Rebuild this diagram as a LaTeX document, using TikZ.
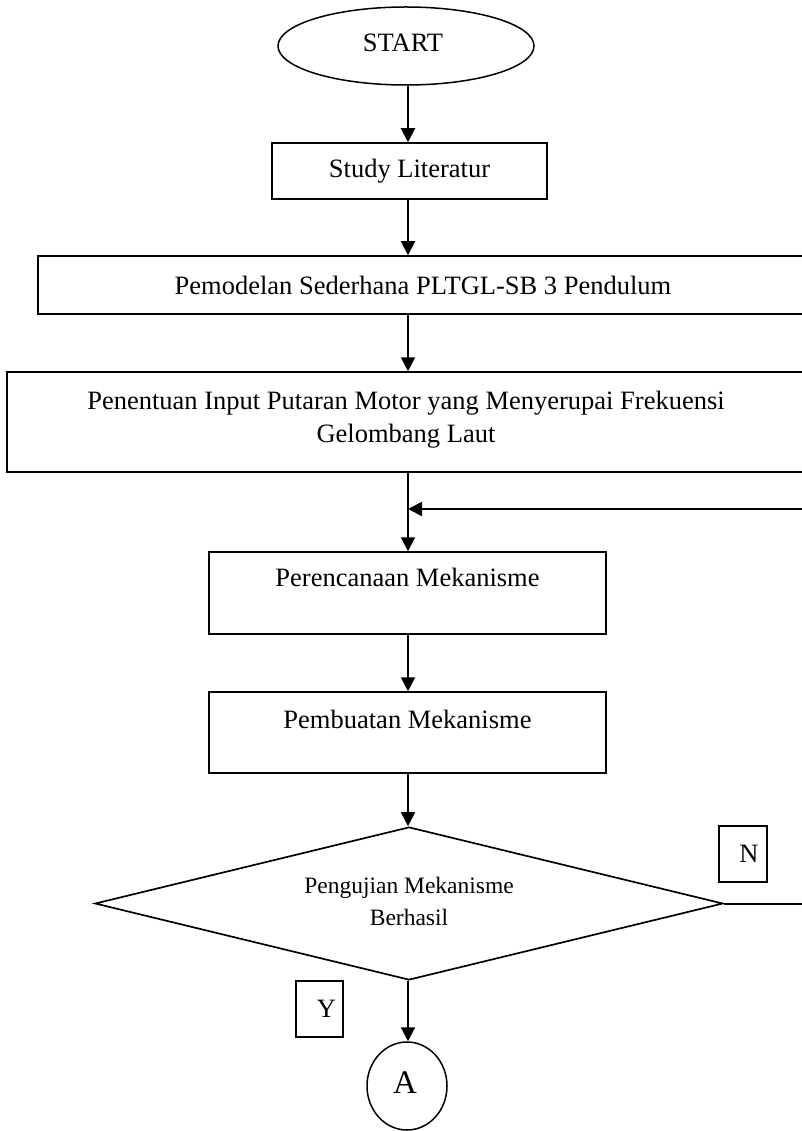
\documentclass[tikz,border=0pt]{standalone}
\usepackage{fontspec}
\setmainfont{Liberation Serif}
\usetikzlibrary{shapes.geometric,arrows.meta}
\begin{document}
\begin{tikzpicture}[x=1pt,y=-1pt,
  every node/.style={font=\fontsize{26.5}{33}\selectfont, inner sep=0pt},
  box/.style={draw, rectangle, line width=1.5pt},
  conn/.style={line width=2pt, -{Triangle[length=14pt,width=14pt]}},
  plain/.style={line width=2pt}]
\useasboundingbox (0,0) rectangle (802,1131);
\clip (0,0) rectangle (802,1131);

\node[draw, ellipse, line width=1.5pt, minimum width=256pt, minimum height=78pt,
      label={[xshift=-3pt,yshift=3pt]center:START}] (start) at (406,46) {};
\node[box, minimum width=275pt, minimum height=56pt] (study) at (409.5,171) {Study Literatur};
\node[box, minimum width=770pt, minimum height=58pt] (pemod) at (423,285) {Pemodelan Sederhana PLTGL-SB 3 Pendulum};
\node[box, minimum width=804pt, minimum height=100pt,
      label={[align=center,xshift=-3pt,yshift=2pt]center:Penentuan Input Putaran Motor yang Menyerupai Frekuensi\\Gelombang Laut}] (penent) at (409,422) {};
\node[box, minimum width=397pt, minimum height=82pt,
      label={[yshift=16pt]center:Perencanaan Mekanisme}] (peren) at (407.5,593) {};
\node[box, minimum width=397pt, minimum height=81pt,
      label={[yshift=13.5pt]center:Pembuatan Mekanisme}] (pembu) at (407.5,732.5) {};
\node[draw, diamond, line width=1.7pt, minimum width=628pt, minimum height=153pt,
      label={[align=center,font=\fontsize{23.5}{32}\selectfont,yshift=2pt]center:Pengujian Mekanisme\\Berhasil}] (dec) at (409,903.5) {};
\node[box, minimum width=48pt, minimum height=56pt, label={[xshift=6pt]center:N}] (nlab) at (743,854) {};
\node[box, minimum width=47pt, minimum height=56pt, label={[xshift=7pt]center:Y}] (ylab) at (319.5,1009) {};
\node[draw, ellipse, line width=1.5pt, minimum width=80pt, minimum height=88pt,
      label={[font=\fontsize{33}{40}\selectfont,xshift=-2pt,yshift=3pt]center:A}] (A) at (407,1086) {};

\coordinate (rt) at (830,903.5);
\coordinate (join) at (408,509);

\draw[conn] (start.south -| 408,0) -- (study.north -| 408,0);
\draw[conn] (study.south -| 408,0) -- (pemod.north -| 408,0);
\draw[conn] (pemod.south -| 408,0) -- (penent.north -| 408,0);
\draw[conn] (penent.south -| 408,0) -- (peren.north -| 408,0);
\draw[conn] (peren.south -| 408,0) -- (pembu.north -| 408,0);
\draw[conn] (pembu.south -| 408,0) -- (dec.north -| 408,0);
\draw[conn] (dec.south -| 408,0) -- (A.north -| 408,0);
\draw[conn] (dec.east) -- (rt) |- (join);
\end{tikzpicture}
\end{document}
